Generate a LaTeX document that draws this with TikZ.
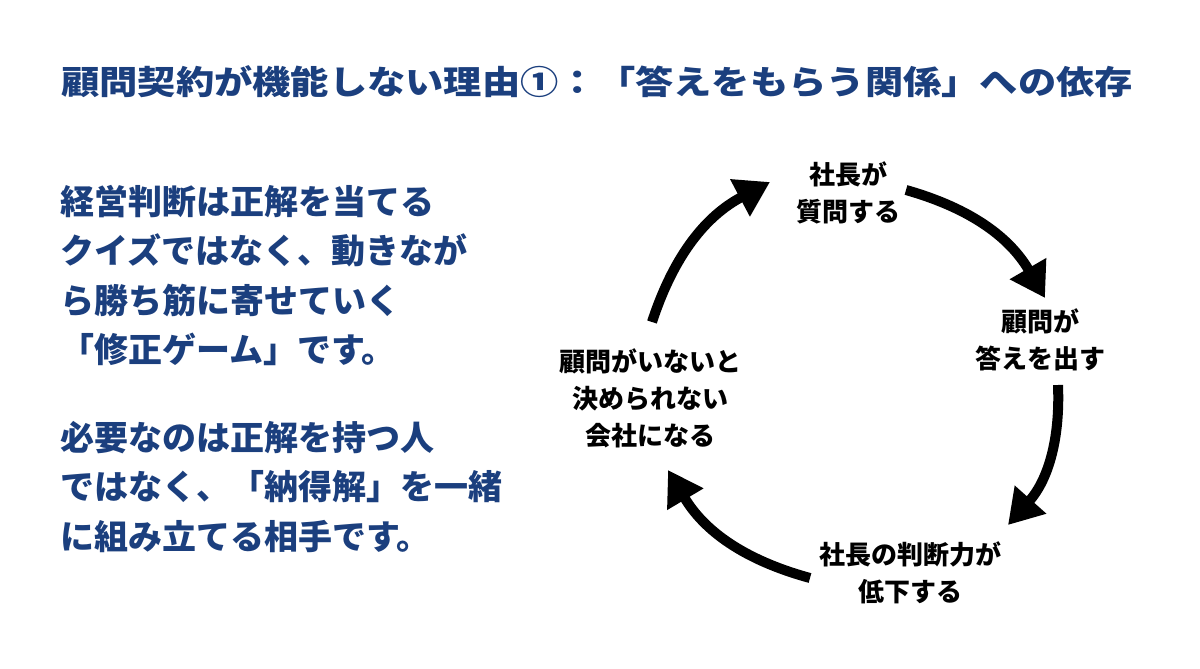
\documentclass[tikz,border=0pt]{standalone}
\usepackage{fontspec}
\newfontfamily\cjk{Noto Sans CJK JP Black}
\newfontfamily\cjkw[FakeStretch=1.16]{Noto Sans CJK JP Black}
\usetikzlibrary{arrows.meta}
\definecolor{navy}{HTML}{1B3F7E}
\begin{document}
\begin{tikzpicture}[x=1pt,y=-1pt,
 title/.style={font=\cjkw\fontsize{33}{40}\selectfont,text=navy,anchor=west,inner sep=0},
 body/.style={font=\cjk\fontsize{34}{49.5}\selectfont,text=navy,anchor=north west,align=left,inner sep=0},
 cyc/.style={font=\cjk\fontsize{26}{37}\selectfont,align=center,inner sep=0},
 arr/.style={line width=10pt,-{Triangle[length=34pt,width=40pt]}}]
\useasboundingbox (0,0) rectangle (1200,669);
\fill[white] (0,0) rectangle (1200,669);
\node[title] (t) at (61,82) {顧問契約が機能しない理由①：「答えをもらう関係」への依存};
\node[body] (b1) at (60,185) {経営判断は正解を当てる\\クイズではなく、動きなが\\ら勝ち筋に寄せていく\\「修正ゲーム」です。};
\node[body] (b2) at (60,421) {必要なのは正解を持つ人\\ではなく、「納得解」を一緒\\に組み立てる相手です。};
\node[cyc] (n1) at (848,193) {社長が\\質問する};
\node[cyc] (n2) at (1040,340) {顧問が\\答えを出す};
\node[cyc] (n3) at (910,573) {社長の判断力が\\低下する};
\node[cyc] (n4) at (650,398) {顧問がいないと\\決められない\\会社になる};
\coordinate (a1s) at (906,190); \coordinate (a1e) at (1045,298);
\coordinate (a2s) at (1058,385); \coordinate (a2e) at (1008,525);
\coordinate (a3s) at (810,578); \coordinate (a3e) at (668,470);
\coordinate (a4s) at (652,322); \coordinate (a4e) at (770,182);
\draw[arr] (a1s) to[bend left=22] (a1e);
\draw[arr] (a2s) to[bend left=22] (a2e);
\draw[arr] (a3s) to[bend left=22] (a3e);
\draw[arr] (a4s) to[bend left=22] (a4e);
\end{tikzpicture}
\end{document}
